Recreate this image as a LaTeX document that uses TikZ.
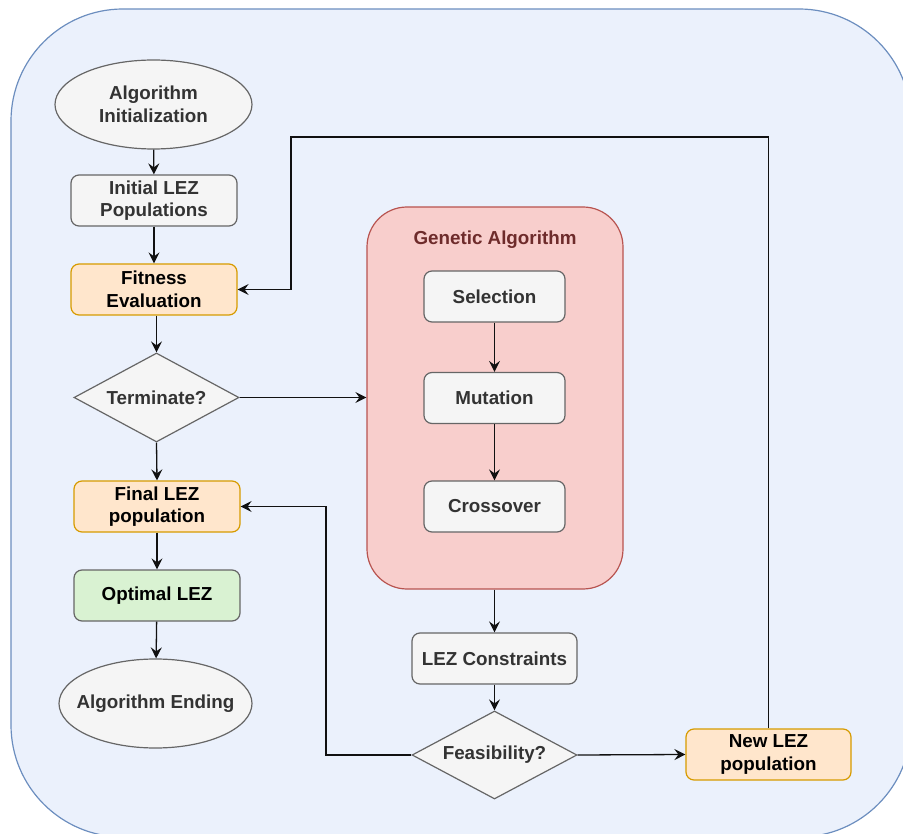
\documentclass[tikz,border=0pt]{standalone}
\usepackage{fontspec}
\setmainfont{Liberation Sans}
\usetikzlibrary{shapes.geometric,arrows.meta}
\definecolor{bgfill}{HTML}{EBF1FC}
\definecolor{bgline}{HTML}{6C8EBF}
\definecolor{gfill}{HTML}{F5F5F5}
\definecolor{gline}{HTML}{666666}
\definecolor{gtext}{HTML}{333333}
\definecolor{ofill}{HTML}{FFE6CC}
\definecolor{oline}{HTML}{D79B00}
\definecolor{grfill}{HTML}{D9F2D2}
\definecolor{rfill}{HTML}{F8CECC}
\definecolor{rline}{HTML}{B85450}
\definecolor{rtext}{HTML}{6E2B2B}
\definecolor{lnk}{HTML}{111111}
\tikzset{
  txt/.style={font=\bfseries\fontsize{18.8}{22.5}\selectfont, align=center},
  graybox/.style={txt, draw=gline, fill=gfill, text=gtext, line width=1.2pt, rounded corners=8pt, inner sep=0pt},
  orangebox/.style={txt, draw=oline, fill=ofill, text=black, line width=1.2pt, rounded corners=8pt, inner sep=0pt, minimum width=166pt, minimum height=51pt},
  greenbox/.style={txt, draw=gline, fill=grfill, text=black, line width=1.2pt, rounded corners=8pt, inner sep=0pt, minimum width=166pt, minimum height=51pt},
  decide/.style={txt, diamond, aspect=1.85, draw=gline, fill=gfill, text=gtext, line width=1.2pt, inner sep=0pt, minimum width=165pt, minimum height=89pt},
  oval/.style={ellipse, draw=gline, fill=gfill, line width=1.2pt, inner sep=0pt},
  ovaltext/.style={txt, text=gtext},
  arr/.style={draw=lnk, line width=1.3pt, -{Stealth[length=11pt,width=11pt,inset=4pt]}},
}
\begin{document}
\begin{tikzpicture}[x=1pt,y=-1pt]
\useasboundingbox (0,0) rectangle (903,834);
\begin{scope}
\clip (0,0) rectangle (903,834);
\path[fill=bgfill, draw=bgline, line width=1.2pt, rounded corners=112pt] (11,9) rectangle (911,837);
\end{scope}

% left column
\node[oval, minimum width=197pt, minimum height=89pt, label={[ovaltext]center:{Algorithm\\Initialization}}] (init) at (153.5,104.5) {};
\node[graybox, minimum width=166pt, minimum height=51pt] (initpop) at (154,200.5) {Initial LEZ\\Populations};
\node[orangebox] (fit) at (154,289.5) {Fitness\\Evaluation};
\node[decide] (term) at (156.5,397.5) {Terminate?};
\node[orangebox] (final) at (157,506.5) {Final LEZ\\population};
\node[greenbox] (opt) at (157,595.5) {Optimal LEZ};
\node[oval, minimum width=193pt, minimum height=89pt, label={[ovaltext]center:{Algorithm Ending}}] (end) at (155.5,703.5) {};

% genetic algorithm container
\node[draw=rline, fill=rfill, line width=1.2pt, rounded corners=40pt, minimum width=256pt, minimum height=382pt, inner sep=0pt] (ga) at (495,398) {};
\node[txt, text=rtext] (gatitle) at (495,240) {Genetic Algorithm};
\node[graybox, minimum width=141pt, minimum height=51pt] (sel) at (494.5,296.5) {Selection};
\node[graybox, minimum width=141pt, minimum height=51pt] (mut) at (494.5,398) {Mutation};
\node[graybox, minimum width=141pt, minimum height=51pt] (cross) at (494.5,506.5) {Crossover};

% lower right
\node[graybox, minimum width=165pt, minimum height=51pt] (lezc) at (494.5,658.5) {LEZ Constraints};
\node[decide, minimum height=88pt] (feas) at (494.5,755) {Feasibility?};
\node[orangebox, minimum width=165pt] (newpop) at (768.5,754.5) {New LEZ\\population};

\coordinate (bendA) at (326,755);
\coordinate (bendB) at (291,137);

% connectors
\draw[arr] (init) -- (initpop);
\draw[arr] (initpop) -- (fit);
\draw[arr] (term.north |- fit.south) -- (term.north);
\draw[arr] (term.east) -- (ga.west |- term.east);
\draw[arr] (term.south) -- (final.north);
\draw[arr] (final) -- (opt);
\draw[arr] (opt) -- (end);
\draw[arr] (sel) -- (mut);
\draw[arr] (mut) -- (cross);
\draw[arr] (lezc.north |- ga.south) -- (lezc.north);
\draw[arr] (lezc) -- (feas);
\draw[arr] (feas.east) -- (newpop.west);
\draw[arr] (feas.west) -- (bendA) |- (final.east);
\draw[arr] (newpop.north) |- (bendB) |- (fit.east);
\end{tikzpicture}
\end{document}
